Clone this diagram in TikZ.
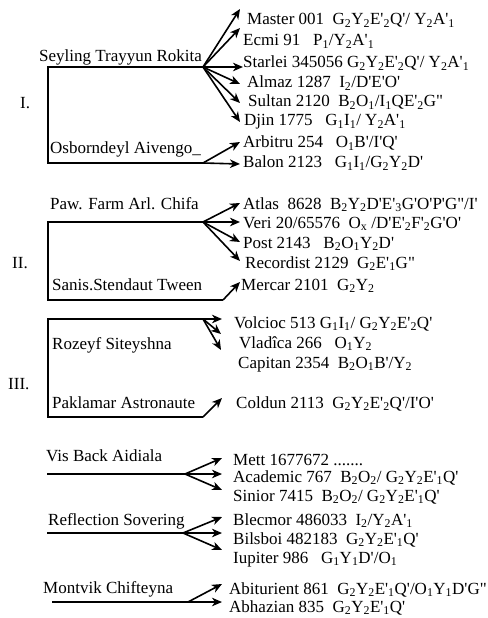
\documentclass[tikz,border=0pt]{standalone}
\usepackage{fontspec}
\setmainfont{Liberation Serif}[Ligatures=TeXOff]
\usetikzlibrary{arrows.meta}
\newcommand\ssub[1]{\textsubscript{#1}}
\begin{document}
\begin{tikzpicture}[x=1bp,y=-1bp,
  txt/.style={anchor=base west, inner sep=0pt, font=\fontsize{17bp}{20bp}\selectfont},
  ln/.style={line width=1.6bp},
  arr/.style={line width=1.6bp, -{Stealth[length=10bp,width=8.5bp,inset=3bp]}}]
\useasboundingbox (0,0) rectangle (488,618);
% ---------- Section I ----------
\node[txt] (nI) at (20,109) {I.};
\node[txt] (g1) at (39,62) {Seyling Trayyun Rokita};
\node[txt] (g2) at (50,154) {Osborndeyl Aivengo\_};
\coordinate (f1) at (203,67);
\coordinate (c1a) at (48,67);
\coordinate (c1b) at (48,163);
\coordinate (f2) at (203,163);
\draw[ln] (f1) -- (c1a) -- (c1b) -- (f2);
\node[txt] (a1) at (247,25) {Master 001~~G\ssub2Y\ssub2E'\ssub2Q'/ Y\ssub2A'\ssub1};
\node[txt] (a2) at (243,46) {Ecmi 91~~~P\ssub1/Y\ssub2A'\ssub1};
\node[txt] (a3) at (243,68) {Starlei 345056 G\ssub2Y\ssub2E'\ssub2Q'/ Y\ssub2A'\ssub1};
\node[txt] (a4) at (247,88) {Almaz 1287~~I\ssub2/D'E'O'};
\node[txt] (a5) at (248,107) {Sultan 2120~~B\ssub2O\ssub1/I\ssub1QE'\ssub2G"};
\node[txt] (a6) at (244,126) {Djin 1775~~~G\ssub1I\ssub1/ Y\ssub2A'\ssub1};
\node[txt] (a7) at (243,148) {Arbitru 254~~~O\ssub1B'/I'Q'};
\node[txt] (a8) at (243,168) {Balon 2123~~~G\ssub1I\ssub1/G\ssub2Y\ssub2D'};
\coordinate (t1) at (240,9);
\coordinate (t2) at (240,28);
\coordinate (t3) at (243,67);
\coordinate (t4) at (240,84);
\coordinate (t5) at (240,103);
\coordinate (t6) at (240,122);
\coordinate (t7) at (240,142);
\coordinate (t8) at (240,164);
\foreach \t in {t1,t2,t3,t4,t5,t6} \draw[arr] (f1) -- (\t);
\foreach \t in {t7,t8} \draw[arr] (f2) -- (\t);
% ---------- Section II ----------
\node[txt] (nII) at (12,268) {II.};
\node[txt] (g3) at (50,209) {Paw. Farm Arl. Chifa};
\node[txt] (g4) at (52,290) {Sanis.Stendaut Tween};
\coordinate (f3) at (203,222);
\coordinate (c3a) at (48,222);
\coordinate (c3b) at (48,300);
\coordinate (f4) at (223,300);
\draw[ln] (f3) -- (c3a) -- (c3b) -- (f4);
\node[txt] (b1) at (243,209) {Atlas~~8628~~B\ssub2Y\ssub2D'E'\ssub3G'O'P'G"/I'};
\node[txt] (b2) at (243,228) {Veri 20/65576~~O\ssub{x} /D'E'\ssub2F'\ssub2G'O'};
\node[txt] (b3) at (243,248) {Post 2143~~~B\ssub2O\ssub1Y\ssub2D'};
\node[txt] (b4) at (245,268) {Recordist 2129~~G\ssub2E'\ssub1G"};
\node[txt] (b5) at (241,290) {Mercar 2101~~G\ssub2Y\ssub2};
\coordinate (u1) at (240,203);
\coordinate (u2) at (240,222);
\coordinate (u3) at (240,242);
\coordinate (u4) at (240,261);
\coordinate (u5) at (240,282);
\foreach \t in {u1,u2,u3,u4} \draw[arr] (f3) -- (\t);
\draw[arr] (f4) -- (u5);
% ---------- Section III ----------
\node[txt] (nIII) at (8,389) {III.};
\node[txt] (g5) at (52,349) {Rozeyf Siteyshna};
\node[txt] (g6) at (52,408) {Paklamar Astronaute};
\coordinate (f5) at (203,319);
\coordinate (c5a) at (48,319);
\coordinate (c5b) at (48,417);
\coordinate (f6) at (203,417);
\draw[ln] (f5) -- (c5a) -- (c5b) -- (f6);
\node[txt] (d1) at (234,328) {Volcioc 513 G\ssub1I\ssub1/ G\ssub2Y\ssub2E'\ssub2Q'};
\node[txt] (d2) at (239,348) {Vladîca 266~~~O\ssub1Y\ssub2};
\node[txt] (d3) at (238,368) {Capitan 2354~~B\ssub2O\ssub1B'/Y\ssub2};
\node[txt] (d4) at (236,408) {Coldun 2113~~G\ssub2Y\ssub2E'\ssub2Q'/I'O'};
\coordinate (v1) at (222,319);
\coordinate (v2) at (221,334);
\coordinate (v3) at (221,350);
\coordinate (v4) at (222,398);
\foreach \t in {v1,v2,v3} \draw[arr] (f5) -- (\t);
\draw[arr] (f6) -- (v4);
% ---------- Section IV ----------
\node[txt] (g7) at (46,461) {Vis Back Aidiala};
\node[txt] (g8) at (48,525) {Reflection Sovering};
\node[txt] (g9) at (43,593) {Montvik Chifteyna};
\coordinate (s7) at (47,474);
\coordinate (f7) at (185,474);
\coordinate (s8) at (47,533);
\coordinate (f8) at (183,533);
\coordinate (s9) at (52,602);
\coordinate (f9) at (188,602);
\draw[ln] (s7) -- (f7);
\draw[ln] (s8) -- (f8);
\draw[ln] (s9) -- (f9);
\node[txt] (e1) at (233,465) {Mett 1677672 .......};
\node[txt] (e2) at (233,482) {Academic 767~~B\ssub2O\ssub2/ G\ssub2Y\ssub2E'\ssub1Q'};
\node[txt] (e3) at (233,501) {Sinior 7415~~B\ssub2O\ssub2/ G\ssub2Y\ssub2E'\ssub1Q'};
\node[txt] (e4) at (233,525) {Blecmor 486033~~I\ssub2/Y\ssub2A'\ssub1};
\node[txt] (e5) at (233,544) {Bilsboi 482183~~G\ssub2Y\ssub2E'\ssub1Q'};
\node[txt] (e6) at (233,563) {Iupiter 986~~~G\ssub1Y\ssub1D'/O\ssub1};
\node[txt] (e7) at (229,594) {Abiturient 861~~G\ssub2Y\ssub2E'\ssub1Q'/O\ssub1Y\ssub1D'G"};
\node[txt] (e8) at (229,612) {Abhazian 835~~G\ssub2Y\ssub2E'\ssub1Q'};
\coordinate (w1) at (222,458);
\coordinate (w2) at (222,474);
\coordinate (w3) at (222,490);
\coordinate (w4) at (222,517);
\coordinate (w5) at (222,533);
\coordinate (w6) at (222,550);
\coordinate (w7) at (222,584);
\coordinate (w8) at (222,602);
\foreach \t in {w1,w2,w3} \draw[arr] (f7) -- (\t);
\foreach \t in {w4,w5,w6} \draw[arr] (f8) -- (\t);
\foreach \t in {w7,w8} \draw[arr] (f9) -- (\t);
\end{tikzpicture}
\end{document}
